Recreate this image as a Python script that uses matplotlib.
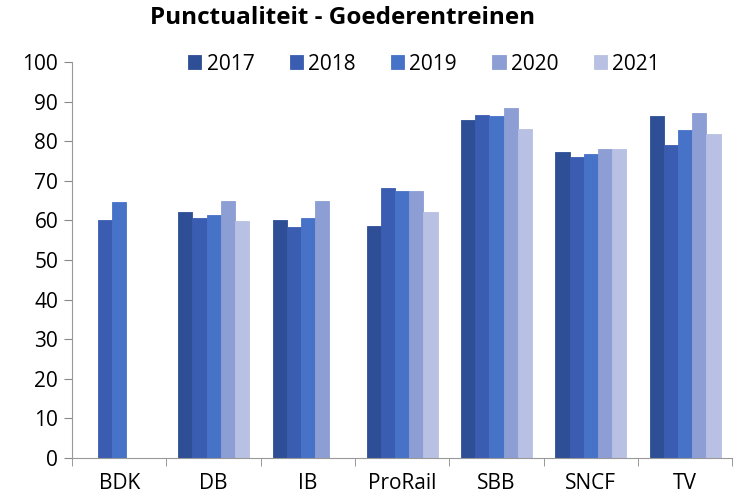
import matplotlib.pyplot as plt
import numpy as np

plt.rcParams['font.family'] = ['Open Sans', 'DejaVu Sans']

categories = ['BDK', 'DB', 'IB', 'ProRail', 'SBB', 'SNCF', 'TV']
years = ['2017', '2018', '2019', '2020', '2021']
nan = np.nan
v2017 = [nan, 62.1, 60.1, 58.6, 85.3, 77.2, 86.3]
v2018 = [60.0, 60.7, 58.4, 68.2, 86.6, 76.1, 79.1]
v2019 = [64.6, 61.3, 60.5, 67.4, 86.3, 76.8, 82.9]
v2020 = [nan, 65.0, 65.0, 67.3, 88.5, 78.0, 87.2]
v2021 = [nan, 59.8, nan, 62.0, 83.2, 78.0, 81.9]
series = [v2017, v2018, v2019, v2020, v2021]
colors = ['#2E4E95', '#3A5DB2', '#4672C8', '#8D9ED5', '#B8C1E3']

fig = plt.figure(figsize=(7.36, 5), dpi=100)
ax = fig.add_axes([0.098, 0.084, 0.897, 0.792])

x = np.arange(len(categories))
w = 0.15
for i, (vals, col, yr) in enumerate(zip(series, colors, years)):
    ax.bar(x + (i - 2) * w, vals, w, color=col, edgecolor=col, linewidth=0.6, label=yr)

ax.set_xlim(-0.5, len(categories) - 0.5)
ax.set_ylim(0, 100)
ax.set_yticks(range(0, 101, 10))
ax.set_xticks(x)
ax.set_xticklabels(categories)
ax.set_xticks(np.arange(-0.5, len(categories), 1), minor=True)
ax.tick_params(axis='x', which='major', length=0, pad=11, labelsize=15)
ax.tick_params(axis='x', which='minor', length=6, color='#888888')
ax.tick_params(axis='y', length=6, color='#888888', labelsize=15, pad=4)

for s in ['top', 'right']:
    ax.spines[s].set_visible(False)
for s in ['left', 'bottom']:
    ax.spines[s].set_color('#999999')

fig.text(0.465, 0.963, 'Punctualiteit - Goederentreinen', ha='center', va='center',
         fontsize=17.5, fontweight='bold')
fig.legend(loc='center', bbox_to_anchor=(0.576, 0.872), ncol=5, frameon=False,
           fontsize=15, handlelength=0.63, handleheight=0.63, handletextpad=0.25,
           columnspacing=1.7)

fig.savefig('out.png', dpi=100)
